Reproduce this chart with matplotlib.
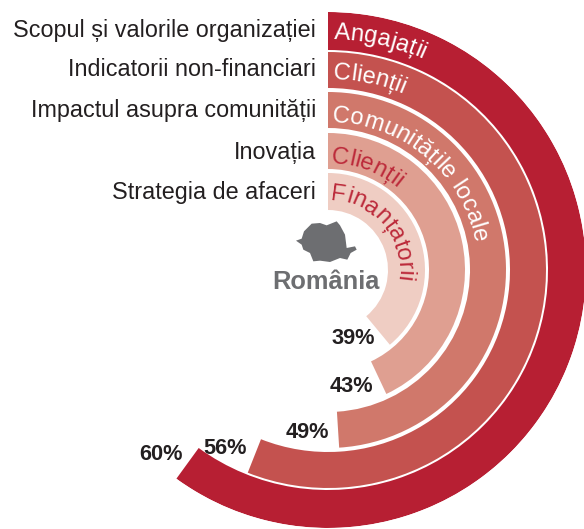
import numpy as np
import matplotlib
matplotlib.use("Agg")
import matplotlib.pyplot as plt
from matplotlib.font_manager import FontProperties
from matplotlib.patches import Polygon

plt.rcParams['font.family'] = ['Liberation Sans', 'DejaVu Sans']

# data, outer ring first
topics = ["Scopul și valorile organizației", "Indicatorii non-financiari",
          "Impactul asupra comunității", "Inovația", "Strategia de afaceri"]
groups = ["Angajații", "Clienții", "Comunitățile locale", "Clienții", "Finanțatorii"]
values = [60, 56, 49, 43, 39]
value_labels = ["60%", "56%", "49%", "43%", "39%"]
country = "România"

W, H = 584, 529
CX, CY, R = 328, 270, 258
colors = ["#B71F33", "#C4524F", "#D0786B", "#DF9F91", "#EFCDC3"]
text_colors = ["white", "white", "white", "#BC2A3A", "#BC2A3A"]
r_in = [220, 182, 142, 101, 60]
r_out = [258, 218, 178, 137, 97]
r_text = [231, 191, 148, 107, 70]
start_deg = [1.5, 1.5, 1.5, 1.5, 2]
topic_y = [31, 70, 111, 152, 193]
value_xy = [(161, 455), (225, 448), (307, 433), (351, 386), (353, 339)]

fig = plt.figure(figsize=(W / 100, H / 100), dpi=100)

# rings
ax = fig.add_axes([(CX - R) / W, (H - CY - R) / H, 2 * R / W, 2 * R / H], projection='polar')
ax.set_theta_zero_location('N')
ax.set_theta_direction(-1)
ax.set_rlim(0, R)
ax.bar(x=0, height=[o - i for o, i in zip(r_out, r_in)],
       width=[np.deg2rad(v * 3.6) for v in values], bottom=r_in,
       align='edge', color=colors, linewidth=0)
ax.axis('off')

# overlay in pixel coordinates for the text and the map
over = fig.add_axes([0, 0, 1, 1])
over.set_xlim(0, W)
over.set_ylim(H, 0)
over.axis('off')

for t, y in zip(topics, topic_y):
    over.text(316, y, t, ha='right', va='center', fontsize=16.8, color='#231F20')
for t, (x, y) in zip(value_labels, value_xy):
    over.text(x, y, t, ha='center', va='center', fontsize=15.7, fontweight='bold', color='#231F20')
over.text(326, 282, country, ha='center', va='center', fontsize=18.3, fontweight='bold', color='#6D6E71')

# Romania silhouette
outline = [(18, 68), (35, 62), (42, 40), (65, 17), (90, 15), (110, 22), (140, 10), (150, 22),
           (165, 50), (170, 90), (195, 85), (200, 95), (182, 105), (172, 125), (150, 120),
           (120, 132), (90, 128), (70, 130), (60, 105), (40, 95), (35, 80)]
over.add_patch(Polygon([(290 + x / 3, 218 + y / 3) for x, y in outline], closed=True,
                       facecolor='#6D6E71', edgecolor='none'))


def arc_text(s, radius, start, color, size=17.2):
    # one rotated text per letter, placed by the measured width of what comes before it
    prop = FontProperties(family='Liberation Sans', size=size)
    rend = fig.canvas.get_renderer()
    for i, ch in enumerate(s):
        before = rend.get_text_width_height_descent(s[:i], prop, False)[0] if i else 0
        w = rend.get_text_width_height_descent(s[:i + 1], prop, False)[0] - before
        a = np.deg2rad(start) + (before + w / 2) / radius
        x = CX + radius * np.sin(a)
        y = CY - radius * np.cos(a)
        over.text(x, y, ch, fontproperties=prop, color=color, ha='center', va='baseline',
                  rotation=-np.rad2deg(a), rotation_mode='anchor')


for g, rt, st, c in zip(groups, r_text, start_deg, text_colors):
    arc_text(g, rt, st, c)

fig.savefig("out.png", dpi=100)
